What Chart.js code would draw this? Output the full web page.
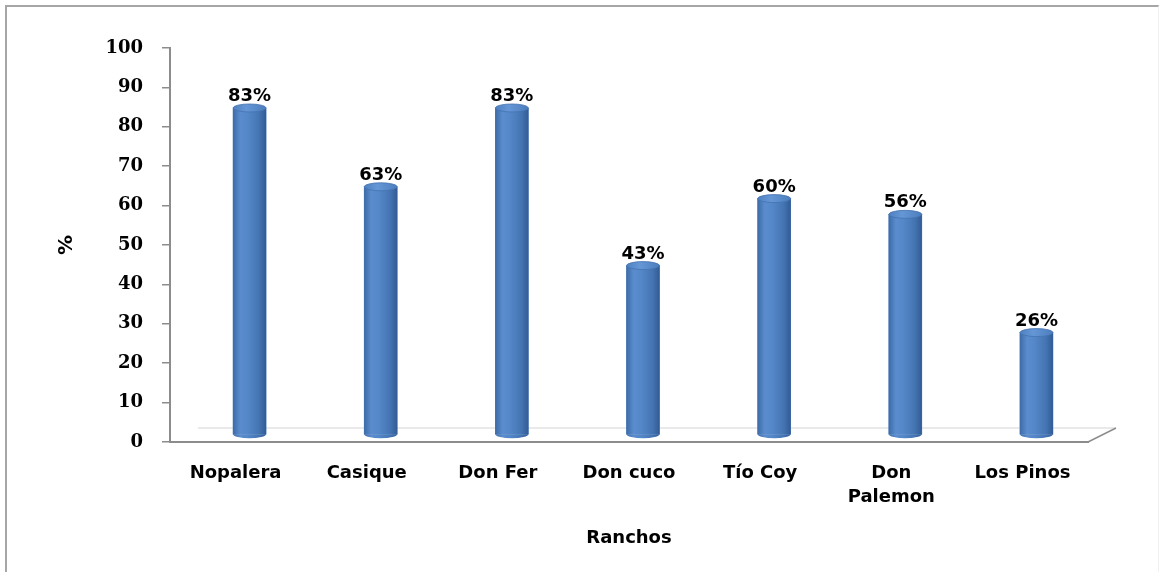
<!DOCTYPE html>
<html>
<head>
<meta charset="utf-8">
<script src="https://cdn.jsdelivr.net/npm/chart.js@4.4.0/dist/chart.umd.min.js"></script>
<style>
  html, body { margin: 0; padding: 0; background: #fff; }
  #wrap { position: relative; width: 1161px; height: 572px; }
  #frame {
    position: absolute; left: 5px; top: 5px; width: 1154px; height: 567px;
    border-left: 2px solid #a6a6a6; border-top: 2px solid #a6a6a6;
    border-right: 1px solid #f0f0f0; box-sizing: border-box;
  }
  canvas { position: absolute; left: 0; top: 0; }
</style>
</head>
<body>
<div id="wrap">
  <div id="frame"></div>
  <canvas id="chart" width="1161" height="572"></canvas>
</div>
<script>
const ranchos = ["Nopalera", "Casique", "Don Fer", "Don cuco", "Tío Coy", ["Don", "Palemon"], "Los Pinos"];
const porcentajes = [83, 63, 83, 43, 60, 56, 26];
const etiquetas = ["83%", "63%", "83%", "43%", "60%", "56%", "26%"];
const yTicks = [0, 10, 20, 30, 40, 50, 60, 70, 80, 90, 100];

// half of the 3D depth: bars sit in the middle of the floor
const DX = 14;
const DY = -7;
const GREY = "#8c8c8c";

function bodyGradient(ctx, x, r) {
  const g = ctx.createLinearGradient(x - r, 0, x + r, 0);
  g.addColorStop(0, "#3d6ba8");
  g.addColorStop(0.22, "#5b8dce");
  g.addColorStop(0.45, "#5487c8");
  g.addColorStop(0.8, "#4473b1");
  g.addColorStop(1, "#315b95");
  return g;
}

/* =========================
   CYLINDERS + FLOOR
========================= */

const cylinders = {
  id: "cylinders",
  beforeDatasetsDraw(chart) {
    const { ctx, chartArea: a } = chart;
    ctx.save();
    // back edge of floor
    ctx.strokeStyle = "#d4d4d4";
    ctx.lineWidth = 1;
    ctx.beginPath();
    ctx.moveTo(a.left + 2 * DX, a.bottom + 2 * DY);
    ctx.lineTo(a.right + 2 * DX, a.bottom + 2 * DY);
    ctx.stroke();
    // right side of floor
    ctx.strokeStyle = GREY;
    ctx.lineWidth = 1.5;
    ctx.beginPath();
    ctx.moveTo(a.right, a.bottom);
    ctx.lineTo(a.right + 2 * DX, a.bottom + 2 * DY);
    ctx.stroke();
    ctx.restore();

    ctx.save();
    ctx.translate(DX, DY);
  },
  afterDatasetsDraw(chart) {
    const ctx = chart.ctx;
    const meta = chart.getDatasetMeta(0);
    meta.data.forEach((bar, i) => {
      const { x, y, base, width } = bar.getProps(["x", "y", "base", "width"], true);
      const rx = width / 2;
      const ry = 4;

      // body (shaded) and bottom of cylinder
      ctx.fillStyle = bodyGradient(ctx, x, rx);
      ctx.fillRect(x - rx, y, width, base - y);
      ctx.beginPath();
      ctx.ellipse(x, base, rx, ry, 0, 0, Math.PI);
      ctx.fill();

      // top of cylinder
      const tg = ctx.createLinearGradient(x - rx, 0, x + rx, 0);
      tg.addColorStop(0, "#4f80c0");
      tg.addColorStop(0.4, "#6596d6");
      tg.addColorStop(1, "#4c7dbd");
      ctx.fillStyle = tg;
      ctx.beginPath();
      ctx.ellipse(x, y, rx, ry, 0, 0, Math.PI * 2);
      ctx.fill();
      ctx.strokeStyle = "#4472ae";
      ctx.lineWidth = 0.8;
      ctx.stroke();

      // value label
      ctx.fillStyle = "#000";
      ctx.font = "bold 18px 'DejaVu Sans'";
      ctx.textAlign = "center";
      ctx.textBaseline = "alphabetic";
      ctx.fillText(etiquetas[i], x, y - ry - 3);
    });
    ctx.restore();
  },
};

/* =========================
   CHART
========================= */

new Chart(document.getElementById("chart"), {
  type: "bar",
  data: {
    labels: ranchos,
    datasets: [
      {
        data: porcentajes,
        barThickness: 33,
        clip: false,
        borderWidth: 0,
        backgroundColor: "#4a7cbb",
      },
    ],
  },
  options: {
    responsive: false,
    animation: false,
    layout: { padding: { left: 5, top: 48, right: 73, bottom: 0 } },
    plugins: {
      legend: { display: false },
      tooltip: { enabled: false },
    },
    scales: {
      x: {
        grid: { display: true, drawOnChartArea: false, drawTicks: false },
        border: { display: true, color: GREY, width: 2 },
        ticks: {
          color: "#000",
          padding: 20,
          maxRotation: 0,
          autoSkip: false,
          font: { family: "'DejaVu Sans'", size: 18, weight: "bold", lineHeight: 1.3 },
        },
        title: {
          display: true,
          text: "Ranchos",
          color: "#000",
          font: { family: "'DejaVu Sans'", size: 18, weight: "bold" },
          padding: { top: 0, bottom: 23 },
        },
        afterFit: (s) => { s.height = 130; },
      },
      y: {
        min: 0,
        max: 100,
        afterBuildTicks: (s) => { s.ticks = yTicks.map((v) => ({ value: v })); },
        grid: { display: true, drawOnChartArea: false, drawTicks: true, tickLength: 8, color: GREY, lineWidth: 1.5 },
        border: { display: true, color: GREY, width: 2 },
        ticks: {
          color: "#000",
          padding: 19,
          font: { family: "'DejaVu Serif'", size: 18, weight: "bold" },
        },
        title: {
          display: true,
          text: "%",
          color: "#000",
          font: { family: "'DejaVu Sans'", size: 20, weight: "bold" },
          padding: { top: 50, bottom: 0 },
        },
        afterFit: (s) => { s.width = 165; },
      },
    },
  },
  plugins: [cylinders],
});
</script>
</body>
</html>
